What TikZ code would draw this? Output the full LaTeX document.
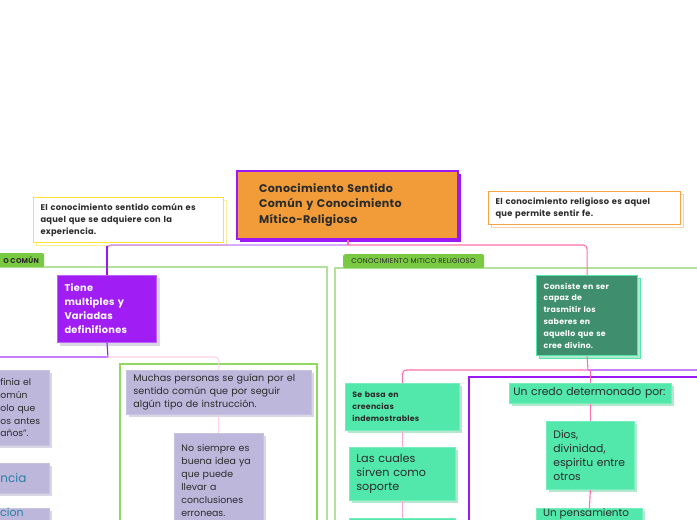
\documentclass[tikz,border=0pt]{standalone}
\usepackage{fontspec}
\setmainfont{Poppins}[BoldFeatures={LetterSpace=3}]
\newfontfamily\tagfont{Poppins}[LetterSpace=4]
\usetikzlibrary{shadows}
\definecolor{purp}{HTML}{9B19F5}
\definecolor{orfill}{HTML}{F19C38}
\definecolor{yel}{HTML}{FFE234}
\definecolor{yelsh}{HTML}{FFEE99}
\definecolor{orb}{HTML}{F7A446}
\definecolor{orsh}{HTML}{FAD0A8}
\definecolor{lavl}{HTML}{C77DFF}
\definecolor{pinkl}{HTML}{FF6FAD}
\definecolor{pinkpale}{HTML}{FFD3DF}
\definecolor{tagg}{HTML}{7AC943}
\definecolor{frameg}{HTML}{B3E09A}
\definecolor{frameg2}{HTML}{8FD862}
\definecolor{vio}{HTML}{A01DF3}
\definecolor{lav}{HTML}{BDB7DC}
\definecolor{lavsh}{HTML}{D9D7E6}
\definecolor{mint}{HTML}{52E8AB}
\definecolor{mintsh}{HTML}{B5E6CE}
\definecolor{dkg}{HTML}{3F8F6F}
\definecolor{txt}{HTML}{2B2B2B}
\definecolor{teal}{HTML}{2B7FA3}
\tikzset{
  bx/.style={rectangle, anchor=north west, inner xsep=7pt, inner ysep=0pt, align=left, text=txt},
  notebox/.style={bx, fill=white, line width=1.2pt},
  central/.style={bx, fill=orfill, draw=purp, line width=2pt, inner xsep=22pt,
     general shadow={shadow xshift=3pt, shadow yshift=-3pt, fill=purp}},
  violet/.style={bx, fill=vio, draw=vio!70!white, line width=1pt, text=white,
     general shadow={shadow xshift=2.5pt, shadow yshift=-2.5pt, fill=lavsh, draw=lavsh}},
  lavbox/.style={bx, fill=lav, draw=lav!85!white, line width=.8pt,
     general shadow={shadow xshift=2.5pt, shadow yshift=-2.5pt, fill=lavsh}},
  mintbox/.style={bx, fill=mint, draw=mint!80!white, line width=.8pt,
     general shadow={shadow xshift=2.5pt, shadow yshift=-2.5pt, fill=mintsh}},
  dkbox/.style={bx, fill=dkg, draw=mint, line width=1.2pt, text=white,
     general shadow={shadow xshift=3pt, shadow yshift=-3pt, fill=mintsh, draw=mint}},
  tag/.style={rectangle, anchor=north west, fill=tagg, rounded corners=2pt, inner sep=0pt, text=txt},
  lnlav/.style={draw=lavl, line width=1.1pt},
  lnpurp/.style={draw=purp, line width=1.1pt},
  lnpink/.style={draw=pinkl, line width=1.1pt},
  lnpale/.style={draw=pinkpale, line width=1.1pt},
}
\begin{document}
\begin{tikzpicture}[x=1pt,y=-1pt]
\path[use as bounding box, clip] (0,0) rectangle (697,520);
\fill[white] (0,0) rectangle (697,520);

% group frames
\draw[frameg, line width=1.3pt] (-10,267) rectangle (327,540);
\node[tag, minimum width=60pt, minimum height=14pt] (tagl) at (-16,253) {};
\node[anchor=east, inner sep=0pt, font=\fontsize{7}{8}\selectfont\bfseries, text=txt] (tagltxt) at (39,260.5) {O COMÚN};
\draw[frameg, line width=1.3pt] (335,268) rectangle (710,540);
\node[tag, minimum width=141pt, minimum height=14pt] (tagr) at (343,254) {};
\node[anchor=center, inner sep=0pt, font=\tagfont\fontsize{7}{8}\selectfont, text=txt] (tagrtxt) at (413.5,261) {CONOCIMIENTO MITICO RELIGIOSO};
\draw[frameg2, line width=1.2pt] (120,364) rectangle (317,540);
\draw[purp, line width=1.3pt] (469,377) rectangle (710,540);

% notes
\node[notebox, draw=yel, minimum height=45pt, text width=176pt,
  general shadow={shadow xshift=2.5pt, shadow yshift=-2.5pt, fill=white, draw=yelsh, line width=1pt},
  font=\fontsize{8.3}{12}\selectfont\bfseries] (nota) at (33,197)
  {El conocimiento sentido común es\\aquel que se adquiere con la\\experiencia.};
\node[notebox, draw=orb, minimum height=33pt, text width=178pt,
  general shadow={shadow xshift=2.5pt, shadow yshift=-2.5pt, fill=white, draw=orsh, line width=1pt},
  font=\fontsize{8.3}{12}\selectfont\bfseries] (notb) at (488,191)
  {El conocimiento religioso es aquel\\que permite sentir fe.};

% central
\node[central, minimum height=68pt, text width=177pt, font=\fontsize{11.1}{15.5}\selectfont\bfseries] (cen) at (236,170)
  {Conocimiento Sentido\\Común y Conocimiento\\Mítico-Religioso};

% level 1
\node[violet, minimum height=67pt, text width=85pt, font=\fontsize{9.8}{14}\selectfont\bfseries] (tiene) at (57,275)
  {Tiene\\multiples y\\Variadas\\definifiones};
\node[dkbox, minimum height=80pt, text width=87pt, font=\fontsize{7.8}{11.8}\selectfont\bfseries] (cons) at (536,275)
  {Consiste en ser\\capaz de\\trasmitir los\\saberes en\\aquello que se\\cree divino.};

% left column (cut off)
\node[lavbox, minimum height=75pt, text width=42pt, font=\fontsize{9.2}{12.7}\selectfont] (l1) at (-7,370)
  {finia el\\omún\\olo que\\os antes\\años”.};
\node[lavbox, minimum height=30pt, text width=42pt, text=teal, font=\fontsize{12}{14}\selectfont] (l2) at (-7,463)
  {ncia};
\node[lavbox, minimum height=30pt, text width=42pt] (l3) at (-7,508) {};
\node[anchor=base west, inner sep=0pt, text=teal, font=\fontsize{11}{13}\selectfont] (l3t) at (0,516.5) {cion};

% middle column
\node[lavbox, minimum height=44pt, text width=171pt, font=\fontsize{9.6}{13}\selectfont] (much) at (126,370)
  {Muchas personas se guían por el\\sentido común que por seguir\\algún tipo de instrucción.};
\node[lavbox, minimum height=95pt, text width=75pt, font=\fontsize{9.4}{13}\selectfont] (nosi) at (174,433)
  {No siempre es\\buena idea ya\\que puede\\llevar a\\conclusiones\\erroneas.};

% right side
\node[mintbox, minimum height=47pt, text width=100pt, font=\fontsize{7.8}{12}\selectfont\bfseries] (seba) at (345,383)
  {Se basa en\\creencias\\indemostrables};
\node[mintbox, minimum height=53pt, text width=92pt, font=\fontsize{11.2}{14}\selectfont] (lasc) at (349,447)
  {Las cuales\\sirven como\\soporte};
\node[mintbox, minimum height=30pt, text width=92pt] (next) at (349,518) {};
\node[mintbox, minimum height=20pt, text width=154pt, inner xsep=4pt, font=\fontsize{10.8}{14}\selectfont] (cred) at (509,383)
  {Un credo determonado por:};
\node[mintbox, minimum height=68pt, text width=74pt, font=\fontsize{10.8}{14.3}\selectfont] (dios) at (546,421)
  {Dios,\\divinidad,\\espiritu entre\\otros};
\node[mintbox, minimum height=30pt, text width=92pt] (pens) at (536,508) {};
\node[anchor=base west, inner sep=0pt, text=txt, font=\fontsize{10.4}{13}\selectfont] (penst) at (543,516.3) {Un pensamiento};

% connectors
\coordinate (j1) at (348,245);
\coordinate (j2) at (108,357);
\coordinate (j3) at (588,370);
\coordinate (endl) at (-5,357);
\coordinate (endr) at (705,370);
\draw[lnpink] (cen.south -| j1) -- (j1);
\draw[lnlav, rounded corners=4pt] (j1) -| (tiene.north);
\draw[lnpurp] (tiene.north |- 0,246) -- (tiene.north);
\draw[lnpink, rounded corners=4pt] (j1) -| (cons.north);
\draw[lnpurp] (tiene.south) -- (j2);
\draw[lnlav] (j2) -- (endl);
\draw[lnpale, rounded corners=4pt] (j2) -| (much.north);
\draw[lnpale] (much.south) -- (nosi.north);
\draw[lnpink] (cons.south) -- (j3);
\draw[lnpink, rounded corners=4pt] (j3) -| (seba.north);
\draw[lnlav] (j3) -- (endr);
\draw[lnpink] (j3 -| cred.north) -- (cred.north);
\draw[draw=pinkl!60!white, line width=1.1pt] (seba.south) -- (lasc.north);
\draw[draw=pinkl!60!white, line width=1.1pt] (lasc.south) -- (next.north);
\draw[lnpink] (cred.south) -- (dios.north);
\draw[lnpink] (dios.south) -- (pens.north);
\end{tikzpicture}
\end{document}
